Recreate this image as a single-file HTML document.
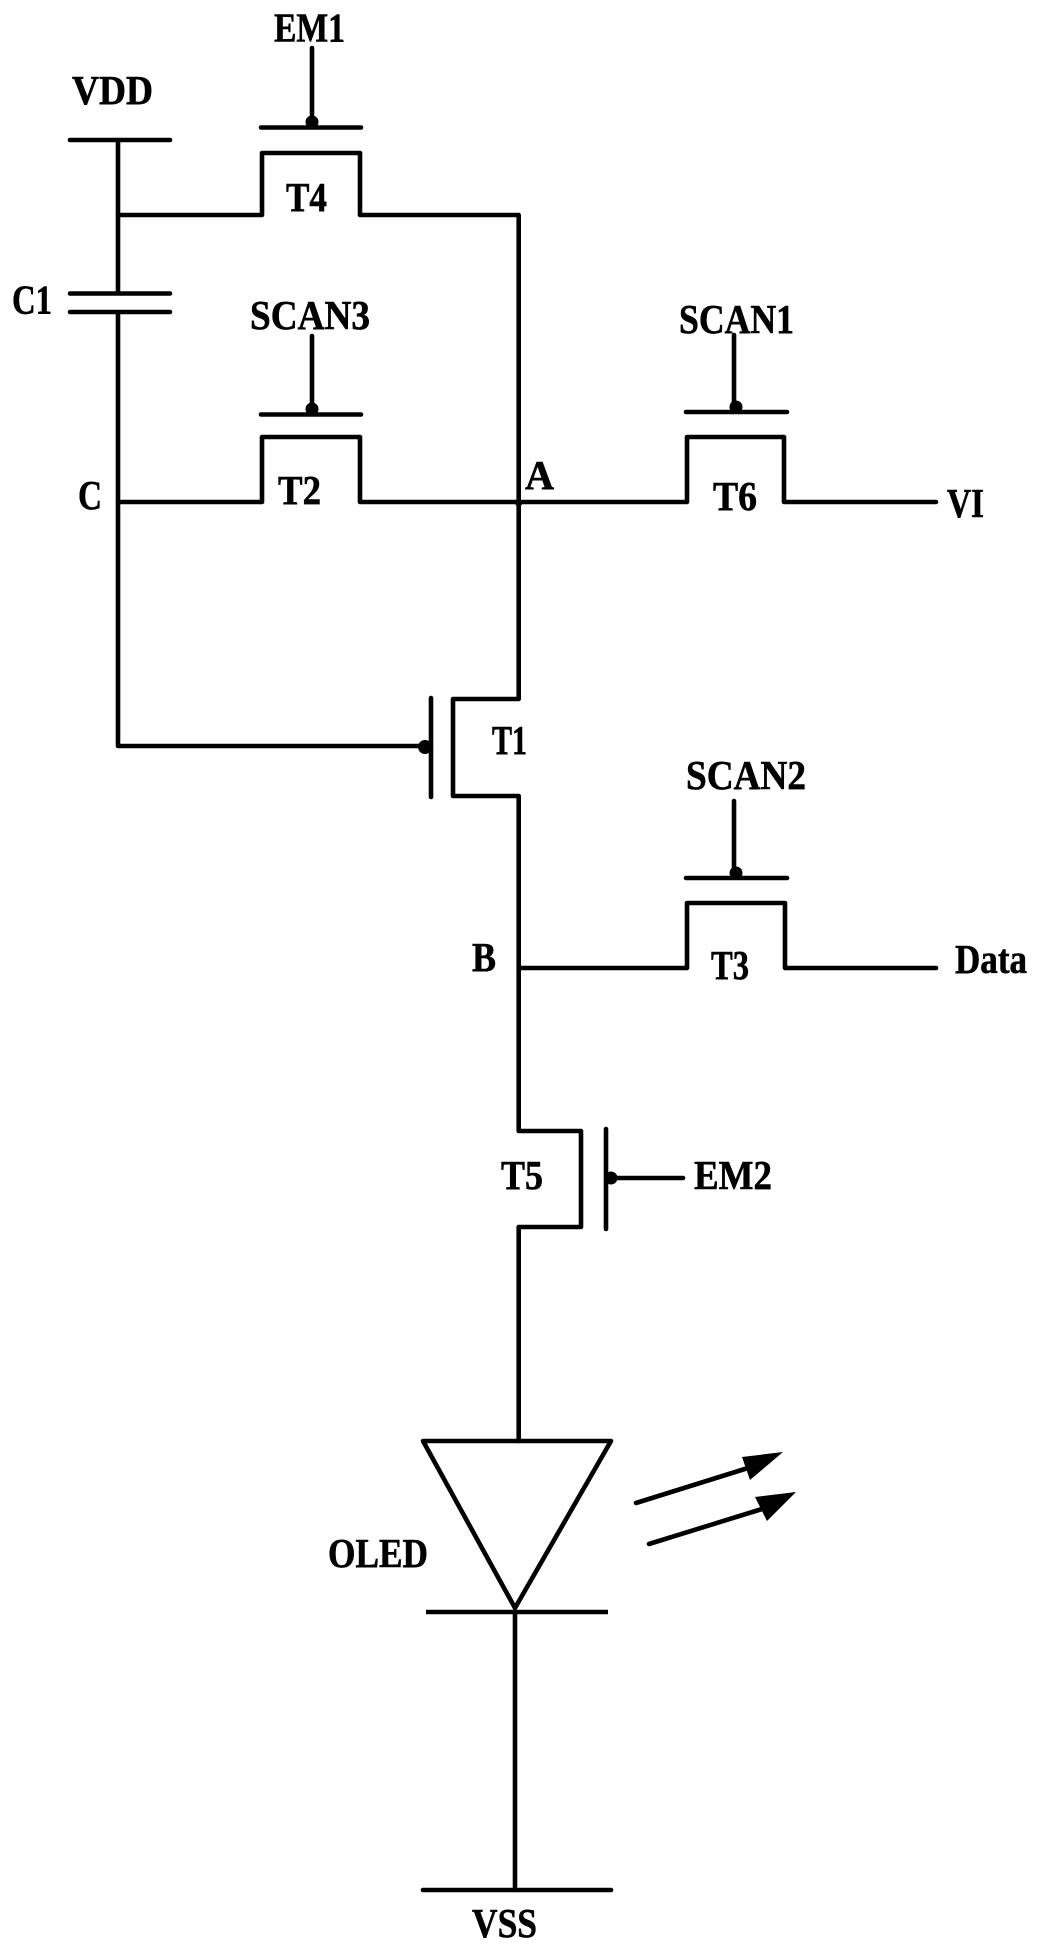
<!DOCTYPE html>
<html>
<head>
<meta charset="utf-8">
<style>
html,body{margin:0;padding:0;background:#fff;width:1041px;height:1950px;overflow:hidden}
svg{display:block}
text{font-family:"Liberation Serif",serif;font-weight:bold;font-size:41px;fill:#000;stroke:#000;stroke-width:.6px}
</style>
</head>
<body>
<svg width="1041" height="1950" viewBox="0 0 1041 1950" xmlns="http://www.w3.org/2000/svg">
<rect width="1041" height="1950" fill="#fff"/>
<g fill="none" stroke="#000" stroke-width="4.6" stroke-linejoin="round" stroke-linecap="round">
<!-- VDD and C1 -->
<path d="M70 140H170"/>
<path d="M118 140V291"/>
<path d="M70 293.5H170M70 312H170"/>
<path d="M118 314V746H431"/>
<!-- T4 -->
<path d="M312 48V127M261 127.5H361"/>
<path d="M118 215H262V153H360V215H518.7V699H453V796H518.7V1131H581V1227H518.7V1441"/>
<!-- T2 -->
<path d="M312 336V414M261 414.5H361"/>
<path d="M118 502H262V437H360V502H687V437H784V502H936"/>
<!-- T6 -->
<path d="M734 335V412M686 412H787"/>
<!-- T1 gate -->
<path d="M431 698V797"/>
<!-- T3 -->
<path d="M734 801V878M686 878H787"/>
<path d="M518.7 968H687V903H785V968H936"/>
<!-- T5 -->
<path d="M606 1129V1229M606 1178H683"/>
<!-- OLED -->
<path d="M423 1441H611L515 1608Z"/>
<path d="M426 1612H608" stroke-linecap="butt"/>
<path d="M515 1612V1890"/>
<path d="M423 1890H611"/>
<!-- light arrows -->
<path d="M636 1503L748 1468"/>
<path d="M649 1544L762 1509"/>
</g>
<g fill="#000" stroke="none">
<circle cx="312" cy="122" r="6.5"/>
<circle cx="312" cy="409" r="6.5"/>
<circle cx="736" cy="407" r="6.5"/>
<circle cx="736" cy="873" r="6.5"/>
<circle cx="425" cy="747" r="7"/>
<circle cx="611" cy="1178" r="6.5"/>
<circle cx="518.7" cy="503" r="3.5"/>
<polygon points="783,1452 742,1457 750,1480"/>
<polygon points="796,1492 755,1497 767,1521"/>
</g>
<g>
<text x="274" y="41.5" textLength="71" lengthAdjust="spacingAndGlyphs">EM1</text>
<text x="72" y="104" textLength="81" lengthAdjust="spacingAndGlyphs">VDD</text>
<text x="12" y="313.5" textLength="40" lengthAdjust="spacingAndGlyphs">C1</text>
<text x="286" y="211" textLength="41" lengthAdjust="spacingAndGlyphs">T4</text>
<text x="250" y="329" textLength="120" lengthAdjust="spacingAndGlyphs">SCAN3</text>
<text x="78" y="509" textLength="24" lengthAdjust="spacingAndGlyphs">C</text>
<text x="278" y="504" textLength="43" lengthAdjust="spacingAndGlyphs">T2</text>
<text x="525" y="489" textLength="29" lengthAdjust="spacingAndGlyphs">A</text>
<text x="679" y="333" textLength="115" lengthAdjust="spacingAndGlyphs">SCAN1</text>
<text x="713" y="510" textLength="44" lengthAdjust="spacingAndGlyphs">T6</text>
<text x="947" y="517" textLength="37" lengthAdjust="spacingAndGlyphs">VI</text>
<text x="492" y="754" textLength="35" lengthAdjust="spacingAndGlyphs">T1</text>
<text x="686" y="789" textLength="120" lengthAdjust="spacingAndGlyphs">SCAN2</text>
<text x="472" y="971" textLength="24" lengthAdjust="spacingAndGlyphs">B</text>
<text x="711" y="979" textLength="38" lengthAdjust="spacingAndGlyphs">T3</text>
<text x="955" y="973" textLength="72" lengthAdjust="spacingAndGlyphs">Data</text>
<text x="501" y="1189" textLength="42" lengthAdjust="spacingAndGlyphs">T5</text>
<text x="694" y="1189" textLength="78" lengthAdjust="spacingAndGlyphs">EM2</text>
<text x="328" y="1567" textLength="100" lengthAdjust="spacingAndGlyphs">OLED</text>
<text x="472" y="1937" textLength="65" lengthAdjust="spacingAndGlyphs">VSS</text>
</g>
</svg>
</body>
</html>
